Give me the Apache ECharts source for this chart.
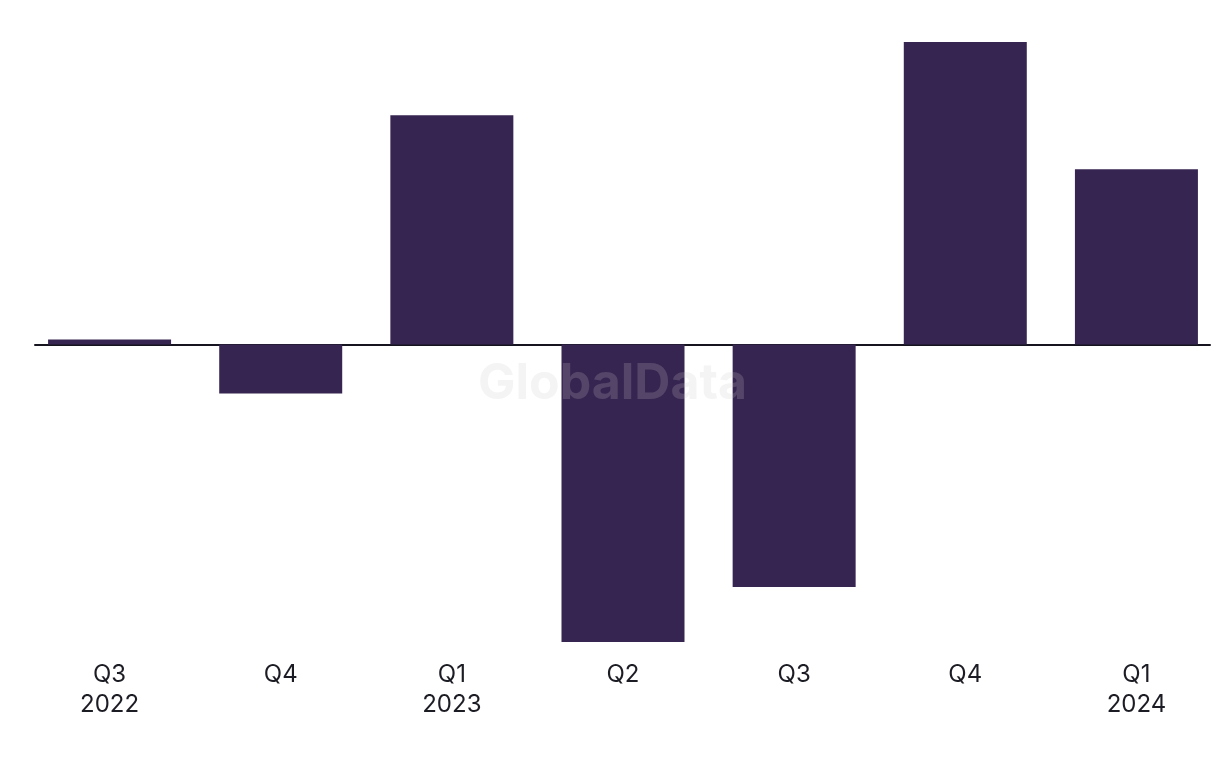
<!DOCTYPE html>
<html><head><meta charset="utf-8">
<script src="https://cdn.jsdelivr.net/npm/echarts@6/dist/echarts.min.js"></script>
<style>html,body{margin:0;padding:0;background:#fff;overflow:hidden}#c{width:1224px;height:768px}</style>
</head><body><div id="c"></div>
<script>
const categories = ['Q3\n2022','Q4','Q1\n2023','Q2','Q3','Q4','Q1\n2024'];
const values = [5, -49, 229, -297, -242, 302, 175];

const chart = echarts.init(document.getElementById('c'));
chart.setOption({
  animation: false,
  backgroundColor: '#ffffff',
  grid: [
    {left: 24, right: 2, top: 25, bottom: 113},
    {left: 35, right: 14, top: 25, bottom: 113}
  ],
  xAxis: [
    {type: 'category', gridIndex: 0, data: categories,
     axisLine: {show: false, onZero: false}, axisTick: {show: false},
     axisLabel: {margin: 5, fontFamily: 'Inter', fontSize: 24, lineHeight: 30, color: '#1c1c24'}},
    {type: 'value', gridIndex: 1, min: 0, max: 1,
     axisLine: {show: true, onZero: true, lineStyle: {color: '#15141f', width: 2}},
     axisTick: {show: false}, axisLabel: {show: false}, splitLine: {show: false}}
  ],
  yAxis: [
    {type: 'value', gridIndex: 0, min: -310, max: 319, show: false, splitLine: {show: false}},
    {type: 'value', gridIndex: 1, min: -310, max: 319, show: false, splitLine: {show: false}}
  ],
  graphic: [{
    type: 'text', left: 478, top: 359, z: 100,
    style: {text: 'GlobalData', font: 'bold 50px Inter', fill: 'rgba(200,200,205,0.2)'}
  }],
  series: [{
    type: 'bar', xAxisIndex: 0, yAxisIndex: 0, data: values, barWidth: 123,
    itemStyle: {color: '#372551'}, z: 2
  }]
});
</script></body></html>
